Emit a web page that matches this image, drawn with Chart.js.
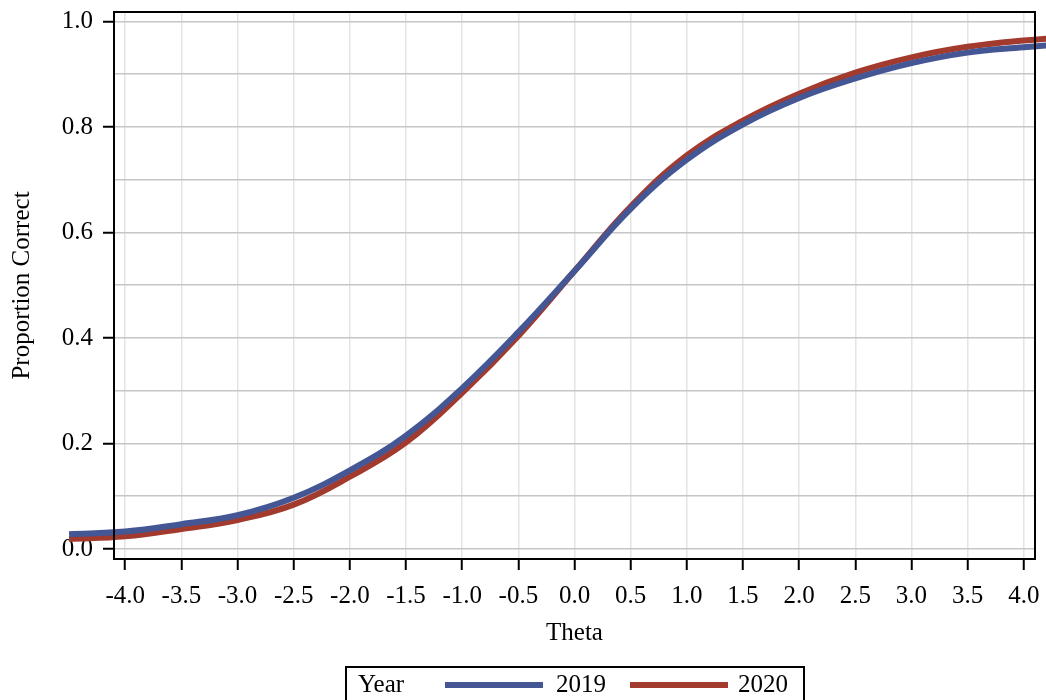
<!DOCTYPE html>
<html>
<head>
<meta charset="utf-8">
<title>Proportion Correct by Theta</title>
<script src="https://cdn.jsdelivr.net/npm/chart.js@4/dist/chart.umd.min.js"></script>
<style>
  html, body { margin: 0; padding: 0; background: #fff; }
  #wrap { position: relative; width: 1046px; height: 700px; overflow: hidden; }
  #legend {
    position: absolute; left: 345px; top: 666px; width: 460px; height: 44px;
    border: 2px solid #000; box-sizing: border-box;
    font: 25px "Liberation Serif", "DejaVu Serif", serif; color: #000;
  }
  #legend span { position: absolute; top: 1px; line-height: 30px; white-space: nowrap; }
  #legend i { position: absolute; top: 14px; height: 6px; width: 98px; }
</style>
</head>
<body>
<div id="wrap">
  <canvas id="chartIcc" width="1046" height="700"></canvas>
  <div id="legend"></div>
</div>
<script>
// values, every 0.5 theta
const theta = [-4.5, -4.0, -3.5, -3.0, -2.5, -2.0, -1.5, -1.0, -0.5, 0.0, 0.5, 1.0, 1.5, 2.0, 2.5, 3.0, 3.5, 4.0, 4.5];
const year2019 = [0.028, 0.033, 0.047, 0.064, 0.097, 0.149, 0.215, 0.305, 0.411, 0.527, 0.645, 0.738, 0.805, 0.855, 0.892, 0.921, 0.941, 0.951, 0.960];
const year2020 = [0.019, 0.024, 0.038, 0.055, 0.084, 0.137, 0.202, 0.296, 0.404, 0.527, 0.649, 0.746, 0.812, 0.863, 0.903, 0.932, 0.952, 0.964, 0.972];
const seriesNames = ['2019', '2020'];
const legendTitle = 'Year';

const serif = '"Liberation Serif", "DejaVu Serif", serif';

function points(ys) {
    return theta.map((t, i) => ({ x: t, y: ys[i] }));
}

// frame round the plot area, drawn over the curves
const frame = {
    id: 'frame',
    afterDatasetsDraw(chart) {
        const { ctx, chartArea: a } = chart;
        ctx.save();
        ctx.strokeStyle = '#000';
        ctx.lineWidth = 2;
        ctx.strokeRect(a.left, a.top, a.right - a.left, a.bottom - a.top);
        ctx.restore();
    }
};

const cvs = document.getElementById('chartIcc').getContext('2d');
const chart = new Chart(cvs, {
    type: 'line',
    data: {
        datasets: [{
            label: seriesNames[0],
            data: points(year2019),
            borderColor: '#445694',
            borderWidth: 6,
            pointRadius: 0,
            tension: 0.4,
            clip: false
        }, {
            label: seriesNames[1],
            data: points(year2020),
            borderColor: '#A23A2E',
            borderWidth: 6,
            pointRadius: 0,
            tension: 0.4,
            clip: false
        }]
    },
    plugins: [frame],
    options: {
        responsive: false,
        animation: false,
        devicePixelRatio: 1,
        layout: { padding: { top: 12, right: 11, bottom: 45, left: 0 } },
        plugins: {
            legend: { display: false },
            tooltip: { enabled: false }
        },
        scales: {
            x: {
                type: 'linear',
                min: -4.1,
                max: 4.1,
                afterFit: (scale) => {
                    scale.height = 96;
                    scale.paddingLeft = 0;
                    scale.paddingRight = 0;
                },
                ticks: {
                    stepSize: 0.5,
                    includeBounds: false,
                    maxRotation: 0,
                    autoSkip: false,
                    padding: 11,
                    color: '#000',
                    font: { family: serif, size: 25 },
                    callback: (v) => Number(v).toFixed(1)
                },
                grid: {
                    color: '#e4e4e4',
                    lineWidth: 1.5,
                    tickColor: '#000',
                    tickLength: 11,
                    tickWidth: 2
                },
                border: { display: false },
                title: {
                    display: true,
                    text: 'Theta',
                    color: '#000',
                    font: { family: serif, size: 25 },
                    padding: { top: 6, bottom: 7 }
                }
            },
            y: {
                min: -0.019,
                max: 1.018,
                afterFit: (scale) => {
                    scale.width = 114;
                    scale.paddingTop = 0;
                    scale.paddingBottom = 0;
                },
                ticks: {
                    stepSize: 0.1,
                    includeBounds: false,
                    padding: 10,
                    color: '#000',
                    font: { family: serif, size: 25 },
                    callback: (v) => Math.round(v * 10) % 2 === 0 ? Number(v).toFixed(1) : ''
                },
                grid: {
                    color: '#c6c6c6',
                    lineWidth: 1.5,
                    tickColor: (c) => Math.round(c.tick.value * 10) % 2 === 0 ? '#000' : 'rgba(0,0,0,0)',
                    tickLength: 11,
                    tickWidth: 2
                },
                border: { display: false },
                title: {
                    display: true,
                    text: 'Proportion Correct',
                    color: '#000',
                    font: { family: serif, size: 25 },
                    padding: { top: 7, bottom: 6 }
                }
            }
        }
    }
});

// legend box under the chart, built from the datasets
const legend = document.getElementById('legend');
const spots = [{ line: 98, text: 209 }, { line: 283, text: 391 }];
legend.innerHTML = '<span style="left:11px">' + legendTitle + '</span>' +
    chart.data.datasets.map((ds, i) =>
        '<i style="left:' + spots[i].line + 'px;background:' + ds.borderColor + '"></i>' +
        '<span style="left:' + spots[i].text + 'px">' + ds.label + '</span>'
    ).join('');
</script>
</body>
</html>
